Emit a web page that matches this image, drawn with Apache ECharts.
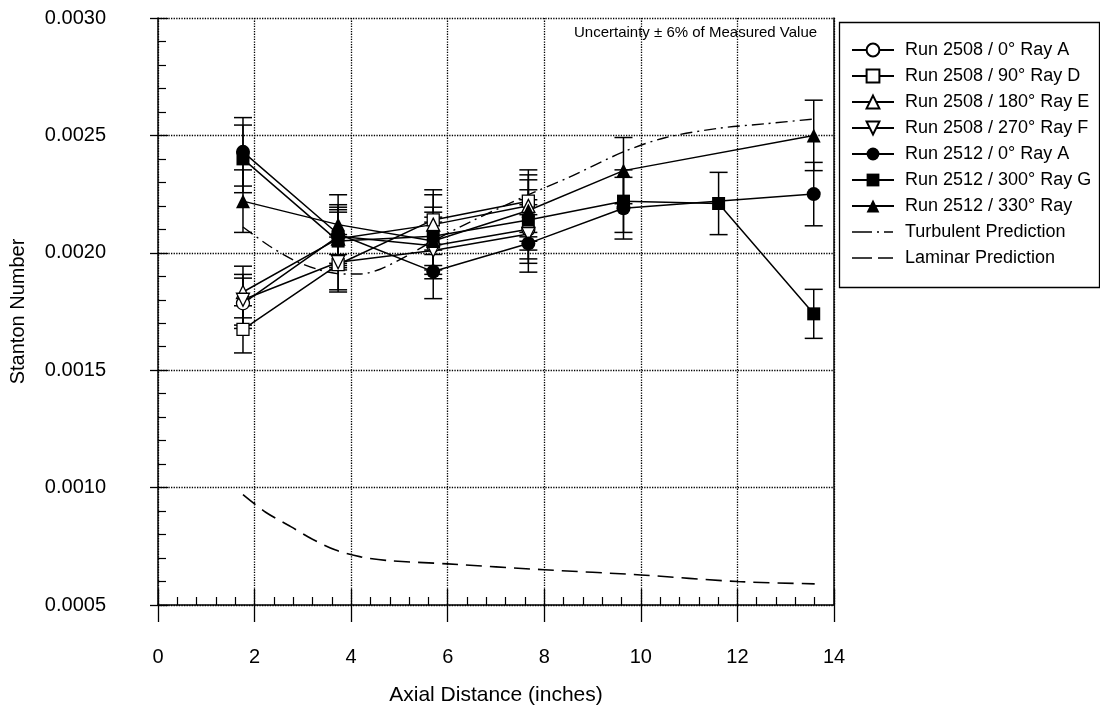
<!DOCTYPE html>
<html>
<head>
<meta charset="utf-8">
<script src="https://cdn.jsdelivr.net/npm/echarts@6/dist/echarts.min.js"></script>
<style>
  html, body { margin: 0; padding: 0; background: #fff; }
  #chart { width: 1100px; height: 717px; }
</style>
</head>
<body>
<div id="chart"></div>
<script>
// axial stations (inches)
var stations = [1.76, 3.73, 5.70, 7.67, 9.64, 11.61, 13.58];

// Run 2508, open symbols (first four stations only)
var run2508_0A   = [0.001785, 0.00207, 0.00203, 0.00210];
var run2508_90D  = [0.001674, 0.00195, 0.00214, 0.00222];
var run2508_180E = [0.001833, 0.00206, 0.00212, 0.00220];
var run2508_270F = [0.00180, 0.00196, 0.00201, 0.00208];

// Run 2512, filled symbols
var run2512_0A   = [0.00243, 0.00208, 0.00192, 0.00204, 0.00219, null, 0.00225];
var run2512_300G = [0.00240, 0.00205, 0.00207, 0.00214, 0.00222, 0.00221, 0.00174];
var run2512_330  = [0.00222, 0.00212, 0.00205, 0.00218, 0.00235, null, 0.00250];

// predictions
var turbX = [1.76, 2.3, 2.8, 3.3, 3.8, 4.2, 4.6, 5.0, 5.7, 6.45, 7.7, 8.5, 9.64, 10.5, 11.6, 12.6, 13.6];
var turbY = [0.00211, 0.00203, 0.00197, 0.00193, 0.00191, 0.00191, 0.00193, 0.00197, 0.00205, 0.00213, 0.00225, 0.00232, 0.00243, 0.00249, 0.00253, 0.00255, 0.00257];
var lamX = [1.76, 2.23, 2.75, 3.2, 3.68, 4.2, 4.72, 6.0, 8.0, 10.0, 12.0, 13.6];
var lamY = [0.00097, 0.000895, 0.000834, 0.00078, 0.000734, 0.000705, 0.00069, 0.000675, 0.00065, 0.000628, 0.0006, 0.00059];

var uncertainty = 0.06;
var fontName = 'Liberation Sans, Arial, sans-serif';

function pairs(xs, ys) {
  return ys.map(function (v, i) { return [xs[i], v]; });
}
function errData(ys) {
  var out = [];
  ys.forEach(function (v, i) {
    if (v != null) out.push([stations[i], v * (1 - uncertainty), v * (1 + uncertainty)]);
  });
  return out;
}

var chart = echarts.init(document.getElementById('chart'));

function markerSeries(name, ys, symbol, size, filled) {
  return {
    name: name,
    type: 'line',
    data: pairs(stations, ys),
    connectNulls: true,
    symbol: symbol,
    symbolSize: size,
    showAllSymbol: true,
    lineStyle: { color: '#000', width: 1.5 },
    itemStyle: filled ? { color: '#000' } : { color: '#fff', borderColor: '#000', borderWidth: 1.3 },
    z: 4
  };
}

function errorSeries(ys) {
  return {
    type: 'custom',
    data: errData(ys),
    z: 3,
    silent: true,
    renderItem: function (params, api) {
      var top = api.coord([api.value(0), api.value(2)]);
      var bot = api.coord([api.value(0), api.value(1)]);
      var hw = 9;
      var st = { stroke: '#000', lineWidth: 1.5 };
      return {
        type: 'group',
        children: [
          { type: 'line', shape: { x1: top[0], y1: top[1], x2: bot[0], y2: bot[1] }, style: st },
          { type: 'line', shape: { x1: top[0] - hw, y1: top[1], x2: top[0] + hw, y2: top[1] }, style: st },
          { type: 'line', shape: { x1: bot[0] - hw, y1: bot[1], x2: bot[0] + hw, y2: bot[1] }, style: st }
        ]
      };
    }
  };
}

var invTri = 'path://M0,0 L10,0 L5,9 Z';

// legend rows: top edge and spacing
var legTop = 41, legStep = 26;
var hidden = { opacity: 0 };

var option = {
  backgroundColor: '#fff',
  animation: false,
  textStyle: { fontFamily: fontName, color: '#000' },
  grid: { left: 158, right: 266, top: 18, bottom: 112 },
  xAxis: [
    {
      type: 'value', min: 0, max: 14, interval: 2, position: 'bottom',
      name: 'Axial Distance (inches)', nameLocation: 'middle', nameGap: 80,
      nameTextStyle: { fontSize: 21, color: '#000', fontFamily: fontName },
      axisLine: { lineStyle: { color: '#000', width: 1.5 } },
      axisTick: { length: 17, lineStyle: { color: '#000', width: 1.3 } },
      axisLabel: { fontSize: 20, color: '#000', margin: 42, fontFamily: fontName },
      splitLine: { show: true, lineStyle: { type: 'dotted', color: '#000', width: 1.3 } }
    },
    {
      type: 'value', min: 0, max: 14, interval: 2, position: 'bottom',
      axisLine: { show: false },
      axisTick: { inside: true, length: 16, lineStyle: { color: '#000', width: 1.3 } },
      minorTick: { show: true, splitNumber: 5, length: 8, lineStyle: { color: '#000', width: 1.2 } },
      axisLabel: { show: false },
      splitLine: { show: false }
    }
  ],
  yAxis: [
    {
      type: 'value', min: 0.0005, max: 0.0030, interval: 0.0005, position: 'left',
      name: 'Stanton Number', nameLocation: 'middle', nameGap: 130, nameRotate: 90,
      nameTextStyle: { fontSize: 20, color: '#000', fontFamily: fontName },
      axisLine: { show: true, lineStyle: { color: '#000', width: 1.5 } },
      axisTick: { show: true, length: 8, lineStyle: { color: '#000', width: 1.3 } },
      axisLabel: { fontSize: 20, color: '#000', margin: 52, fontFamily: fontName,
        formatter: function (v) { return v.toFixed(4); } },
      splitLine: { show: true, lineStyle: { type: 'dotted', color: '#000', width: 1.3 } }
    },
    {
      type: 'value', min: 0.0005, max: 0.0030, interval: 0.0005, position: 'left',
      axisLine: { show: false },
      axisTick: { show: true, inside: true, length: 10, lineStyle: { color: '#000', width: 1.3 } },
      minorTick: { show: true, splitNumber: 5, length: 8, lineStyle: { color: '#000', width: 1.2 } },
      axisLabel: { show: false },
      splitLine: { show: false }
    },
    {
      type: 'value', min: 0.0005, max: 0.0030, interval: 0.0005, position: 'right',
      axisLine: { show: true, lineStyle: { color: '#000', width: 1.5 } },
      axisTick: { show: false },
      axisLabel: { show: false },
      splitLine: { show: false }
    }
  ],
  legend: {
    orient: 'vertical',
    left: 851,
    top: legTop,
    itemWidth: 42,
    itemHeight: 16,
    itemGap: 8,
    padding: 0,
    selectedMode: false,
    textStyle: { fontSize: 18, color: '#000', fontFamily: fontName, padding: [0, 0, 0, 6] },
    data: [
      'Run 2508 / 0° Ray A', 'Run 2508 / 90° Ray D', 'Run 2508 / 180° Ray E', 'Run 2508 / 270° Ray F',
      'Run 2512 / 0° Ray A', 'Run 2512 / 300° Ray G', 'Run 2512 / 330° Ray',
      { name: 'Turbulent Prediction', icon: 'rect', itemStyle: hidden },
      { name: 'Laminar Prediction', icon: 'rect', itemStyle: hidden }
    ]
  },
  graphic: [
    { type: 'rect', left: 837, top: 20, shape: { width: 260, height: 265 },
      style: { fill: 'none', stroke: '#000', lineWidth: 1.3 } },
    { type: 'text', left: 574, top: 25,
      style: { text: 'Uncertainty ± 6% of Measured Value', font: '15px ' + fontName, fill: '#000' } },
    // line-style samples for the two prediction entries
    { type: 'line', shape: { x1: 852, y1: legTop + 9 + 7 * legStep, x2: 893, y2: legTop + 9 + 7 * legStep },
      style: { stroke: '#000', lineWidth: 1.4, lineDash: [20, 5, 2, 5] } },
    { type: 'line', shape: { x1: 852, y1: legTop + 9 + 8 * legStep, x2: 893, y2: legTop + 9 + 8 * legStep },
      style: { stroke: '#000', lineWidth: 1.6, lineDash: [20, 6] } }
  ],
  series: [
    errorSeries(run2508_0A), errorSeries(run2508_90D), errorSeries(run2508_180E), errorSeries(run2508_270F),
    errorSeries(run2512_0A), errorSeries(run2512_300G), errorSeries(run2512_330),
    markerSeries('Run 2508 / 0° Ray A', run2508_0A, 'circle', 13, false),
    markerSeries('Run 2508 / 90° Ray D', run2508_90D, 'rect', 12, false),
    markerSeries('Run 2508 / 180° Ray E', run2508_180E, 'triangle', 13, false),
    markerSeries('Run 2508 / 270° Ray F', run2508_270F, invTri, 13, false),
    markerSeries('Run 2512 / 0° Ray A', run2512_0A, 'circle', 14, true),
    markerSeries('Run 2512 / 300° Ray G', run2512_300G, 'rect', 13, true),
    markerSeries('Run 2512 / 330° Ray', run2512_330, 'triangle', 14, true),
    {
      name: 'Turbulent Prediction', type: 'line', data: pairs(turbX, turbY),
      symbol: 'none', smooth: 0.3, z: 2,
      lineStyle: { color: '#000', width: 1.4, type: [12, 5, 2, 5] },
      itemStyle: { color: '#000' }
    },
    {
      name: 'Laminar Prediction', type: 'line', data: pairs(lamX, lamY),
      symbol: 'none', smooth: 0.3, z: 2,
      lineStyle: { color: '#000', width: 1.6, type: [16, 8] },
      itemStyle: { color: '#000' }
    }
  ]
};

chart.setOption(option);
</script>
</body>
</html>
